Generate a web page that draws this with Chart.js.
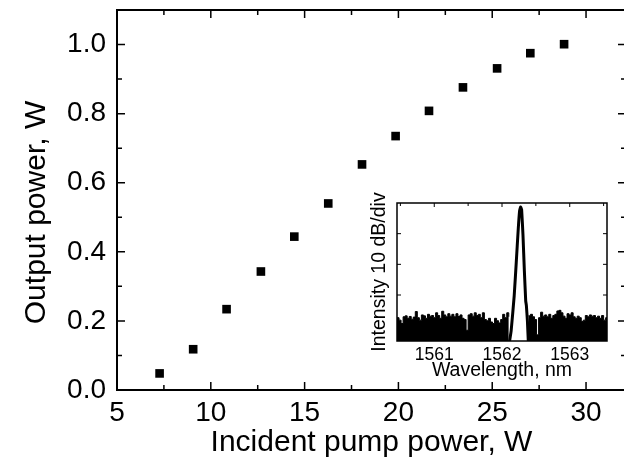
<!DOCTYPE html>
<html>
<head>
<meta charset="utf-8">
<script src="https://cdn.jsdelivr.net/npm/chart.js@4/dist/chart.umd.min.js"></script>
<style>
  html, body { margin: 0; padding: 0; background: #fff; overflow: hidden; width: 624px; height: 471px; }
  #wrap { position: relative; width: 624px; height: 471px; overflow: hidden; }
  #main { position: absolute; left: 0; top: 0; }
  #inset { position: absolute; left: 350px; top: 190px; }
</style>
</head>
<body>
<div id="wrap">
  <canvas id="main" width="640" height="471"></canvas>
  <canvas id="inset" width="265" height="200"></canvas>
</div>
<script>
// main plot: output vs pump power
const pumpPower = [7.27, 9.06, 10.84, 12.67, 14.45, 16.26, 18.06, 19.85, 21.63, 23.44, 25.26, 27.03, 28.83];
const outputPower = [0.048, 0.118, 0.234, 0.343, 0.444, 0.540, 0.653, 0.735, 0.808, 0.876, 0.931, 0.975, 1.001];
const xTicks = [5, 10, 15, 20, 25, 30];
const xMinor = [7.5, 12.5, 17.5, 22.5, 27.5];
const yTicks = [0, 0.2, 0.4, 0.6, 0.8, 1.0];
const yMinor = [0.1, 0.3, 0.5, 0.7, 0.9];

// inset: spectrum (noise floor left / laser line / noise floor right)
const noiseLeftWl = [1560.45, 1560.48, 1560.51, 1560.54, 1560.57, 1560.60, 1560.63, 1560.66, 1560.69, 1560.72,
  1560.75, 1560.78, 1560.81, 1560.84, 1560.87, 1560.90, 1560.93, 1560.96, 1560.99, 1561.02,
  1561.05, 1561.08, 1561.11, 1561.14, 1561.17, 1561.20, 1561.23, 1561.26, 1561.29, 1561.32,
  1561.35, 1561.38, 1561.41, 1561.44, 1561.47, 1561.50, 1561.53, 1561.56, 1561.59, 1561.62,
  1561.65, 1561.68, 1561.71, 1561.74, 1561.77, 1561.80, 1561.83, 1561.86, 1561.89, 1561.92,
  1561.95, 1561.98, 1562.01, 1562.04, 1562.07, 1562.10];
const noiseLeftDb = [-37.4, -38.2, -39.3, -37.1, -36.8, -37.6, -37.0, -37.9, -37.2, -35.4,
  -37.4, -38.2, -36.5, -36.8, -37.6, -36.3, -36.9, -36.7, -37.4, -35.8,
  -36.7, -37.6, -35.3, -36.5, -37.1, -36.1, -36.9, -36.3, -37.1, -36.1,
  -37.0, -36.5, -37.6, -38.0, -41.5, -36.5, -36.1, -36.9, -35.8, -36.7,
  -36.3, -37.4, -35.8, -38.0, -38.4, -37.6, -38.8, -39.3, -37.6, -38.4,
  -39.1, -38.0, -36.3, -37.4, -35.8, -37.1];
const peakWl = [1562.105, 1562.135, 1562.18, 1562.21, 1562.24, 1562.26, 1562.275, 1562.29, 1562.31, 1562.33, 1562.35, 1562.36, 1562.375, 1562.39];
const peakDb = [-46, -41.7, -30.3, -19.5, -8.4, -2.5, -1.3, -2.2, -10.6, -22.1, -31.9, -33.5, -38.4, -46];
const noiseRightWl = [1562.39, 1562.42, 1562.45, 1562.48, 1562.51, 1562.54, 1562.57, 1562.60, 1562.63, 1562.66,
  1562.69, 1562.72, 1562.75, 1562.78, 1562.81, 1562.84, 1562.87, 1562.90, 1562.93, 1562.96,
  1562.99, 1563.02, 1563.05, 1563.08, 1563.11, 1563.14, 1563.17, 1563.20, 1563.23, 1563.26,
  1563.29, 1563.32, 1563.35, 1563.38, 1563.41, 1563.44, 1563.47, 1563.50, 1563.53, 1563.56];
const noiseRightDb = [-36.8, -36.3, -37.1, -38.0, -43.0, -37.4, -35.6, -36.9, -36.5, -37.1,
  -36.3, -37.6, -36.7, -36.3, -35.2, -35.0, -35.8, -36.9, -37.6, -36.1,
  -36.5, -35.8, -37.1, -37.6, -36.9, -37.4, -38.6, -38.2, -36.7, -37.1,
  -36.5, -36.9, -36.7, -37.4, -36.9, -37.6, -36.7, -38.2, -37.4, -37.0];
const insetXTicks = [1561, 1562, 1563];
const insetXMinor = [1560.5, 1561.5, 1562.5, 1563.5];
const insetYTicks = [-40, -30, -20, -10];

const pts = (xs, ys) => xs.map((x, i) => ({x: x, y: ys[i]}));

Chart.defaults.font.family = "'Liberation Sans', Arial, sans-serif";
Chart.defaults.color = '#000';

// box around plot area with ticks pointing inward on all four sides
const frameTicks = {
  id: 'frameTicks',
  afterDatasetsDraw(chart, args, o) {
    const {ctx, chartArea: a} = chart;
    const xs = chart.scales.x, ys = chart.scales.y;
    ctx.save();
    ctx.strokeStyle = '#000';
    ctx.lineWidth = o.tickWidth;
    ctx.beginPath();
    const vert = (vals, len) => vals.forEach(v => {
      const px = xs.getPixelForValue(v);
      ctx.moveTo(px, a.bottom); ctx.lineTo(px, a.bottom - len);
      ctx.moveTo(px, a.top); ctx.lineTo(px, a.top + len);
    });
    const horiz = (vals, len) => vals.forEach(v => {
      const py = ys.getPixelForValue(v);
      ctx.moveTo(a.left, py); ctx.lineTo(a.left + len, py);
      ctx.moveTo(a.right, py); ctx.lineTo(a.right - len, py);
    });
    vert(o.xMajor, o.major); vert(o.xMinor, o.minor);
    horiz(o.yMajor, o.major); horiz(o.yMinor, o.minor);
    ctx.stroke();
    ctx.lineWidth = o.frameWidth;
    ctx.strokeRect(a.left, a.top, a.right - a.left, a.bottom - a.top);
    ctx.restore();
  }
};

// fixed box sizes so the plot area lands where the original has it
const fixX = h => s => { s.height = h; s.paddingLeft = 0; s.paddingRight = 0; };
const fixY = w => s => { s.width = w; s.paddingTop = 0; s.paddingBottom = 0; };

new Chart(document.getElementById('main'), {
  type: 'scatter',
  data: {
    datasets: [{
      data: pts(pumpPower, outputPower),
      pointStyle: 'rect',
      pointRadius: 6.1,
      borderWidth: 0,
      backgroundColor: '#000',
      showLine: false
    }]
  },
  options: {
    responsive: false,
    animation: false,
    layout: { padding: { left: 0, top: 10, right: 14, bottom: 0 } },
    plugins: {
      legend: { display: false },
      tooltip: { enabled: false },
      frameTicks: { xMajor: xTicks, xMinor: xMinor, yMajor: yTicks, yMinor: yMinor, major: 8, minor: 5, tickWidth: 1.5, frameWidth: 2 }
    },
    scales: {
      x: {
        type: 'linear', min: 5, max: 32.13,
        grid: { display: false, drawTicks: false },
        border: { display: false },
        afterBuildTicks: s => { s.ticks = xTicks.map(v => ({value: v})); },
        afterFit: fixX(81),
        ticks: { padding: 6, font: { size: 28 }, maxRotation: 0 },
        title: { display: true, text: 'Incident pump power, W', font: { size: 30 }, padding: { top: 0, bottom: 10 } }
      },
      y: {
        type: 'linear', min: 0, max: 1.1,
        grid: { display: false, drawTicks: false },
        border: { display: false },
        afterBuildTicks: s => { s.ticks = yTicks.map(v => ({value: v})); },
        afterFit: fixY(117),
        ticks: { padding: 11, font: { size: 28 }, callback: v => v.toFixed(1) },
        title: { display: true, text: 'Output power, W   ', font: { size: 30 }, padding: { top: 19, bottom: 0 } }
      }
    }
  },
  plugins: [frameTicks]
});

new Chart(document.getElementById('inset'), {
  type: 'line',
  data: {
    datasets: [
      { data: pts(noiseLeftWl, noiseLeftDb), stepped: true, fill: 'start', backgroundColor: '#000', borderColor: '#000', borderWidth: 1, pointRadius: 0 },
      { data: pts(peakWl, peakDb), fill: false, borderColor: '#000', borderWidth: 3, pointRadius: 0, tension: 0.1 },
      { data: pts(noiseRightWl, noiseRightDb), stepped: true, fill: 'start', backgroundColor: '#000', borderColor: '#000', borderWidth: 1, pointRadius: 0 }
    ]
  },
  options: {
    responsive: false,
    animation: false,
    layout: { padding: { left: 0, top: 13, right: 8, bottom: 0 } },
    plugins: {
      legend: { display: false },
      tooltip: { enabled: false },
      frameTicks: { xMajor: insetXTicks, xMinor: insetXMinor, yMajor: insetYTicks, yMinor: [], major: 4, minor: 3, tickWidth: 1, frameWidth: 1.5 }
    },
    scales: {
      x: {
        type: 'linear', min: 1560.45, max: 1563.55,
        grid: { display: false, drawTicks: false },
        border: { display: false },
        afterBuildTicks: s => { s.ticks = insetXTicks.map(v => ({value: v})); },
        afterFit: fixX(49),
        ticks: { padding: 4, font: { size: 17.5 }, maxRotation: 0, callback: v => String(v) },
        title: { display: true, text: 'Wavelength, nm', font: { size: 19.5 }, padding: { top: 0, bottom: 8 } }
      },
      y: {
        type: 'linear', min: -45, max: 0,
        grid: { display: false, drawTicks: false },
        border: { display: false },
        afterFit: fixY(47),
        ticks: { display: false },
        title: { display: true, text: 'Intensity 10 dB/div', font: { size: 19.5 }, padding: { top: 18, bottom: 0 } }
      }
    }
  },
  plugins: [frameTicks]
});
</script>
</body>
</html>
